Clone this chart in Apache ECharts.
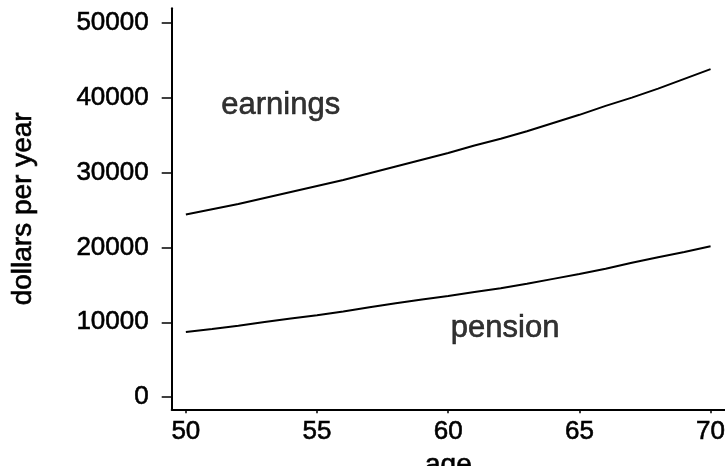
<!DOCTYPE html>
<html>
<head>
<meta charset="utf-8">
<script src="https://cdn.jsdelivr.net/npm/echarts@6/dist/echarts.min.js"></script>
<style>
html,body{margin:0;padding:0;background:#fff;}
#c{width:725px;height:466px;}
</style>
</head>
<body>
<div id="c"></div>
<script>
var ages = [50,51,52,53,54,55,56,57,58,59,60,61,62,63,64,65,66,67,68,69,70];
var earnings = [24400,25100,25800,26600,27400,28200,29000,29900,30800,31700,32600,33600,34500,35500,36600,37700,38900,40000,41200,42500,43800];
var pension = [8700,9100,9550,10050,10500,10950,11450,12000,12550,13050,13500,14050,14550,15150,15800,16450,17150,17950,18700,19400,20150];
var xTicks = [50,55,60,65,70];
var yTicks = [0,10000,20000,30000,40000,50000];
var annotations = [
  {text:'earnings', age:51.35, value:39000},
  {text:'pension', age:60.1, value:9150}
];

var FONT = '"Liberation Sans", Arial, Helvetica, sans-serif';
var STROKE = {textBorderColor:'#000', textBorderWidth:0.6};
function pairs(xs, ys){ return xs.map(function(x,i){ return [x, ys[i]]; }); }
function plain(v){ return String(v); }
function txt(size, extra){
  var o = {color:'#000', fontFamily:FONT, fontSize:size, textBorderColor:STROKE.textBorderColor, textBorderWidth:STROKE.textBorderWidth};
  for (var k in extra) o[k] = extra[k];
  return o;
}

var chart = echarts.init(document.getElementById('c'), null, {renderer:'canvas'});
chart.setOption({
  backgroundColor:'#ffffff',
  animation:false,
  grid:{left:171.7, right:0, top:8.3, bottom:56.7, containLabel:false, outerBoundsMode:'none'},
  xAxis:{
    type:'value', min:49.46, max:70.55,
    name:'age', nameLocation:'middle', nameGap:31,
    nameTextStyle:txt(28, {}),
    axisLine:{show:true, onZero:false, lineStyle:{color:'#000', width:2}},
    axisTick:{show:true, length:4, lineStyle:{color:'#000', width:1.5}, customValues:xTicks},
    axisLabel:txt(26, {show:true, margin:10, customValues:xTicks, formatter:plain}),
    splitLine:{show:false}
  },
  yAxis:{
    type:'value', min:-1610, max:51920,
    name:'dollars per year', nameLocation:'middle', nameGap:134, nameRotate:90,
    nameTextStyle:txt(28, {}),
    axisLine:{show:true, onZero:false, lineStyle:{color:'#000', width:2}},
    axisTick:{show:true, length:10, lineStyle:{color:'#000', width:1.5}, customValues:yTicks},
    axisLabel:txt(26, {show:true, margin:23, customValues:yTicks, formatter:plain}),
    splitLine:{show:false}
  },
  series:[
    {type:'line', name:'earnings', data:pairs(ages, earnings), showSymbol:false, symbol:'none',
     lineStyle:{color:'#000', width:2}, smooth:false},
    {type:'line', name:'pension', data:pairs(ages, pension), showSymbol:false, symbol:'none',
     lineStyle:{color:'#000', width:2}, smooth:false},
    {type:'scatter', symbolSize:0, silent:true,
     data:annotations.map(function(a){ return {value:[a.age, a.value], name:a.text}; }),
     label:txt(31, {show:true, position:'right', distance:0, formatter:'{b}'})}
  ]
});
</script>
</body>
</html>
